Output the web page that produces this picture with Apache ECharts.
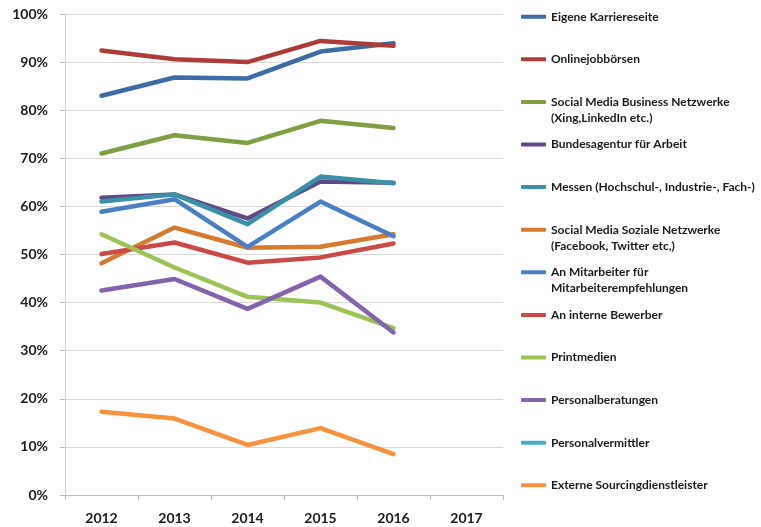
<!DOCTYPE html>
<html>
<head>
<meta charset="utf-8">
<script src="https://cdn.jsdelivr.net/npm/echarts@6/dist/echarts.min.js"></script>
<style>html,body{margin:0;padding:0;background:#fff}#c{width:761px;height:527px}</style>
</head>
<body>
<div id="c"></div>
<script>
var years = ['2012', '2013', '2014', '2015', '2016', '2017'];
var yTicks = [0, 10, 20, 30, 40, 50, 60, 70, 80, 90, 100];

var eigeneKarriereseite   = [83.0, 86.8, 86.6, 92.2, 93.9];
var onlinejobboersen      = [92.4, 90.6, 90.0, 94.4, 93.4];
var socialBusiness        = [71.0, 74.8, 73.2, 77.8, 76.3];
var bundesagentur         = [61.8, 62.5, 57.5, 65.2, 64.9];
var messen                = [61.0, 62.5, 56.3, 66.2, 64.8];
var socialSoziale         = [48.2, 55.6, 51.4, 51.6, 54.2];
var anMitarbeiter         = [58.9, 61.5, 51.6, 61.0, 53.8];
var anInterneBewerber     = [50.1, 52.5, 48.3, 49.4, 52.3];
var printmedien           = [54.2, 47.3, 41.2, 40.0, 34.7];
var personalberatungen    = [42.5, 44.9, 38.7, 45.4, 33.8];
var personalvermittler    = [null, null, null, null, null];
var externeSourcing       = [17.3, 15.9, 10.4, 13.9, 8.5];

var names = [
  'Eigene Karriereseite',
  'Onlinejobbörsen',
  'Social Media Business Netzwerke\n(Xing,LinkedIn etc.)',
  'Bundesagentur für Arbeit',
  'Messen (Hochschul-, Industrie-, Fach-)',
  'Social Media Soziale Netzwerke\n(Facebook, Twitter etc,)',
  'An Mitarbeiter für\nMitarbeiterempfehlungen',
  'An interne Bewerber',
  'Printmedien',
  'Personalberatungen',
  'Personalvermittler',
  'Externe Sourcingdienstleister'
];
var values = [eigeneKarriereseite, onlinejobboersen, socialBusiness, bundesagentur, messen,
  socialSoziale, anMitarbeiter, anInterneBewerber, printmedien, personalberatungen,
  personalvermittler, externeSourcing];
var colors = ['#3d6ba6', '#ad3b37', '#7f9f42', '#5f4a87', '#3a91a7', '#d67a2e',
  '#4a7fc4', '#c94a47', '#9cc356', '#8463ad', '#46aecb', '#f7923f'];

var series = names.map(function (n, i) {
  return {
    name: n, type: 'line', data: values[i], symbol: 'none', smooth: false,
    lineStyle: { width: 4.5, color: colors[i], cap: 'round', join: 'round' },
    itemStyle: { color: colors[i] }, z: 2 + i
  };
});

var LH = 16;
var legends = names.map(function (n, i) {
  var multi = n.indexOf('\n') >= 0;
  var center = 16.7 + i * 42.6;
  return {
    orient: 'vertical', left: 521, top: center - (multi ? 1.5 * LH : 0.5 * LH), data: [n],
    icon: 'roundRect', itemWidth: 25, itemHeight: 4, itemGap: 0,
    padding: 0, selectedMode: false,
    formatter: function (name) { return multi ? '\n' + name : name; },
    textStyle: {
      fontFamily: 'Lato', fontWeight: 'bold', fontSize: 12, color: '#1a1a1a',
      lineHeight: LH
    }
  };
});

var chart = echarts.init(document.getElementById('c'), null, { renderer: 'canvas' });
chart.setOption({
  animation: false,
  backgroundColor: '#fff',
  grid: { left: 65, right: 258, top: 14, bottom: 32, containLabel: false },
  legend: legends,
  xAxis: {
    type: 'category', data: years, boundaryGap: true,
    axisLine: { show: true, lineStyle: { color: '#bfbfbf', width: 1 } },
    axisTick: { show: true, alignWithLabel: false, length: 5, lineStyle: { color: '#bfbfbf' } },
    axisLabel: { fontFamily: 'Lato', fontWeight: 'bold', fontSize: 14, color: '#1a1a1a', margin: 16 },
    splitLine: { show: false }
  },
  yAxis: {
    type: 'value', min: yTicks[0], max: yTicks[yTicks.length - 1], interval: 10,
    axisLine: { show: true, lineStyle: { color: '#d0d0d0', width: 1 } },
    axisTick: { show: true, length: 5, lineStyle: { color: '#bfbfbf' } },
    axisLabel: { formatter: '{value}%', fontFamily: 'Lato', fontWeight: 'bold', fontSize: 14, color: '#1a1a1a', margin: 17 },
    splitLine: { show: true, lineStyle: { color: '#d9d9d9', width: 1 } }
  },
  series: series
});
</script>
</body>
</html>
